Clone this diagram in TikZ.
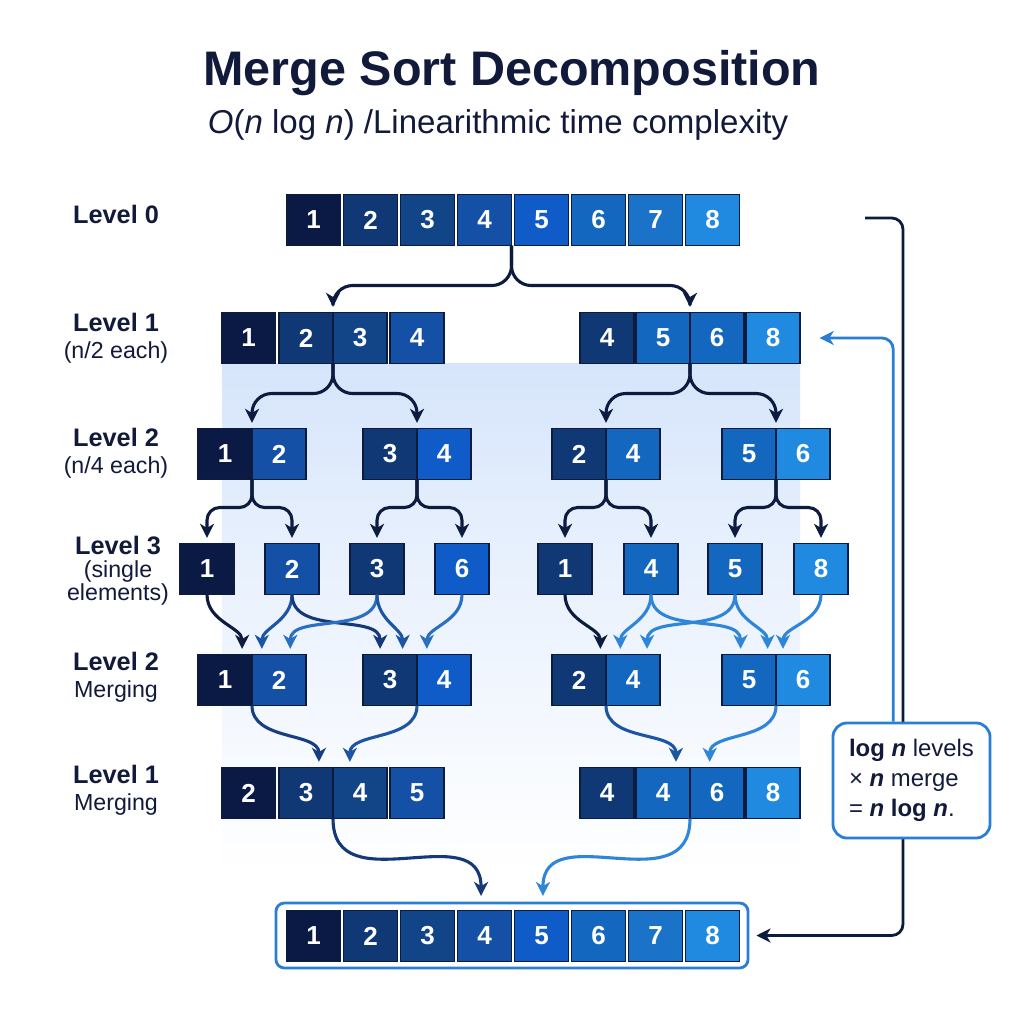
\documentclass[tikz,border=0pt]{standalone}
\usepackage{fontspec}
\setmainfont{Liberation Sans}
\usepackage{xcolor}
\usetikzlibrary{arrows.meta}

\definecolor{ink}{HTML}{111A3A}
\definecolor{navy}{HTML}{0D1B3E}
\definecolor{frame}{HTML}{2A7FD4}
\definecolor{c1}{HTML}{0B1A45}
\definecolor{c2}{HTML}{0F3875}
\definecolor{c3}{HTML}{124488}
\definecolor{c4}{HTML}{1450A6}
\definecolor{c5}{HTML}{0F5BC8}
\definecolor{c6}{HTML}{1467BE}
\definecolor{c7}{HTML}{1A72C9}
\definecolor{c8}{HTML}{2089E0}
\definecolor{mdark}{HTML}{143878}
\definecolor{mmid}{HTML}{1D55A5}
\definecolor{mlight}{HTML}{2B6FC2}
\definecolor{mbright}{HTML}{2F86D8}
\definecolor{glowa}{HTML}{D6E5FB}
\definecolor{glowb}{HTML}{B9D2F6}
\definecolor{glowc}{HTML}{E9F1FD}
\definecolor{glowd}{HTML}{C4DAF8}

\begin{document}
\begin{tikzpicture}[x=0.025cm,y=-0.025cm,
    cell/.style={draw=navy,line width=1pt,minimum width=38.4pt,minimum height=36.3pt,inner sep=0pt,outer sep=0pt,text=white,font=\fontsize{18.5}{18.5}\selectfont\bfseries},
    lvl/.style={align=center,text=ink,font=\fontsize{16.5}{19}\selectfont},
    split/.style={draw=navy,line width=2.2pt,rounded corners=14pt,-{Stealth[length=10pt,width=10pt,inset=3pt]},shorten >=4pt},
    merge/.style={line width=2.2pt,-{Stealth[length=10pt,width=10pt,inset=3pt]},shorten >=4pt},
]
    \fill[white] (0,0) rectangle (1024,1024);
    \shade[top color=glowa,middle color=glowb,bottom color=glowc] (222,363) rectangle (800,569);
    \shade[top color=glowc,middle color=glowd,bottom color=white] (222,569) rectangle (800,875);

    \node[text=ink,font=\fontsize{34.5}{34.5}\selectfont\bfseries] (title) at (512,73) {Merge Sort Decomposition};
    \node[text=ink,font=\fontsize{23.5}{23.5}\selectfont] (subtitle) at (498,125) {\textit{O}(\textit{n} log \textit{n}) /Linearithmic time complexity};

    \node[lvl] (lbl0) at (116,214) {\textbf{\fontsize{18}{18}\selectfont Level 0}};
    \node[lvl] (lbl1) at (116,338) {\textbf{\fontsize{18}{18}\selectfont Level 1}\\(n/2 each)};
    \node[lvl] (lbl2) at (116,453) {\textbf{\fontsize{18}{18}\selectfont Level 2}\\(n/4 each)};
    \node[lvl,font=\fontsize{16.5}{16.5}\selectfont] (lbl3) at (118,571) {\textbf{\fontsize{18}{18}\selectfont Level 3}\\(single\\elements)};
    \node[lvl] (lbl4) at (116,677) {\textbf{\fontsize{18}{18}\selectfont Level 2}\\Merging};
    \node[lvl] (lbl5) at (116,790) {\textbf{\fontsize{18}{18}\selectfont Level 1}\\Merging};

    \node[cell,fill=c1] (r0c1) at (313.5,220) {1};
    \node[cell,fill=c2] (r0c2) at (370.5,220) {2};
    \node[cell,fill=c3] (r0c3) at (427.5,220) {3};
    \node[cell,fill=c4] (r0c4) at (484.5,220) {4};
    \node[cell,fill=c5] (r0c5) at (541.5,220) {5};
    \node[cell,fill=c6] (r0c6) at (598.5,220) {6};
    \node[cell,fill=c7] (r0c7) at (655.5,220) {7};
    \node[cell,fill=c8] (r0c8) at (712.5,220) {8};

    \node[cell,fill=c1] (r1a1) at (248.5,338) {1};
    \node[cell,fill=c2] (r1a2) at (306,338) {2};
    \node[cell,fill=c3] (r1a3) at (360,338) {3};
    \node[cell,fill=c4] (r1a4) at (417,338) {4};
    \node[cell,fill=c2] (r1b1) at (607,338) {4};
    \node[cell,fill=c6] (r1b2) at (663,338) {5};
    \node[cell,fill=c6] (r1b3) at (717,338) {6};
    \node[cell,fill=c8] (r1b4) at (773,338) {8};

    \node[cell,fill=c1] (r2a1) at (225,454) {1};
    \node[cell,fill=c4] (r2a2) at (279,454) {2};
    \node[cell,fill=c2] (r2b1) at (390,454) {3};
    \node[cell,fill=c5] (r2b2) at (444,454) {4};
    \node[cell,fill=c2] (r2c1) at (579,454) {2};
    \node[cell,fill=c6] (r2c2) at (633,454) {4};
    \node[cell,fill=c6] (r2d1) at (749,454) {5};
    \node[cell,fill=c8] (r2d2) at (803,454) {6};

    \node[cell,fill=c1] (r3a) at (207,569) {1};
    \node[cell,fill=c4] (r3b) at (292,569) {2};
    \node[cell,fill=c2] (r3c) at (377,569) {3};
    \node[cell,fill=c5] (r3d) at (462,569) {6};
    \node[cell,fill=c2] (r3e) at (565,569) {1};
    \node[cell,fill=c6] (r3f) at (651,569) {4};
    \node[cell,fill=c6] (r3g) at (735,569) {5};
    \node[cell,fill=c8] (r3h) at (821,569) {8};

    \node[cell,fill=c1] (m2a1) at (225,680) {1};
    \node[cell,fill=c4] (m2a2) at (279,680) {2};
    \node[cell,fill=c2] (m2b1) at (390,680) {3};
    \node[cell,fill=c5] (m2b2) at (444,680) {4};
    \node[cell,fill=c2] (m2c1) at (579,680) {2};
    \node[cell,fill=c6] (m2c2) at (633,680) {4};
    \node[cell,fill=c6] (m2d1) at (749,680) {5};
    \node[cell,fill=c8] (m2d2) at (803,680) {6};

    \node[cell,fill=c1] (m1a1) at (248.5,793) {2};
    \node[cell,fill=c2] (m1a2) at (306,793) {3};
    \node[cell,fill=c3] (m1a3) at (360,793) {4};
    \node[cell,fill=c4] (m1a4) at (417,793) {5};
    \node[cell,fill=c2] (m1b1) at (607,793) {4};
    \node[cell,fill=c6] (m1b2) at (663,793) {4};
    \node[cell,fill=c6] (m1b3) at (717,793) {6};
    \node[cell,fill=c8] (m1b4) at (773,793) {8};

    \node[draw=frame,line width=2pt,rounded corners=6pt,minimum width=335.7pt,minimum height=46.2pt] (finalbox) at (512,935.5) {};
    \node[cell,fill=c1] (f1) at (313.5,936) {1};
    \node[cell,fill=c2] (f2) at (370.5,936) {2};
    \node[cell,fill=c3] (f3) at (427.5,936) {3};
    \node[cell,fill=c4] (f4) at (484.5,936) {4};
    \node[cell,fill=c5] (f5) at (541.5,936) {5};
    \node[cell,fill=c6] (f6) at (598.5,936) {6};
    \node[cell,fill=c7] (f7) at (655.5,936) {7};
    \node[cell,fill=c8] (f8) at (712.5,936) {8};

    \draw[split] (r0c4.south east) -- ++(0,40) -| (r1a2.north east);
    \draw[split] (r0c4.south east) -- ++(0,40) -| (r1b2.north east);

    \draw[split] (r1a2.south east) -- ++(0,30) -| (r2a1.north east);
    \draw[split] (r1a2.south east) -- ++(0,30) -| (r2b1.north east);
    \draw[split] (r1b2.south east) -- ++(0,30) -| (r2c1.north east);
    \draw[split] (r1b2.south east) -- ++(0,30) -| (r2d1.north east);

    \draw[split,rounded corners=9pt] (r2a1.south east) -- ++(0,28) -| (r3a.north);
    \draw[split,rounded corners=9pt] (r2a1.south east) -- ++(0,28) -| (r3b.north);
    \draw[split,rounded corners=9pt] (r2b1.south east) -- ++(0,28) -| (r3c.north);
    \draw[split,rounded corners=9pt] (r2b1.south east) -- ++(0,28) -| (r3d.north);
    \draw[split,rounded corners=9pt] (r2c1.south east) -- ++(0,28) -| (r3e.north);
    \draw[split,rounded corners=9pt] (r2c1.south east) -- ++(0,28) -| (r3f.north);
    \draw[split,rounded corners=9pt] (r2d1.south east) -- ++(0,28) -| (r3g.north);
    \draw[split,rounded corners=9pt] (r2d1.south east) -- ++(0,28) -| (r3h.north);

    \draw[merge,navy] (r3a.south) to[out=-90,in=90] ([xshift=-7pt]m2a1.north east);
    \draw[merge,mmid] (r3b.south) to[out=-90,in=90] ([xshift=7pt]m2a2.north west);
    \draw[merge,mdark] (r3b.south) to[out=-90,in=90] ([xshift=-7pt]m2b1.north);
    \draw[merge,mlight] (r3c.south) to[out=-90,in=90] ([xshift=8pt]m2a2.north);
    \draw[merge,mmid] (r3c.south) to[out=-90,in=90] ([xshift=9pt]m2b1.north);
    \draw[merge,mlight] (r3d.south) to[out=-90,in=90] ([xshift=7pt]m2b2.north west);

    \draw[merge,navy] (r3e.south) to[out=-90,in=90] ([xshift=-4pt]m2c1.north east);
    \draw[merge,mbright] (r3f.south) to[out=-90,in=90] ([xshift=-9pt]m2c2.north);
    \draw[merge,mbright] (r3f.south) to[out=-90,in=90] ([xshift=-6pt]m2d1.north);
    \draw[merge,mbright] (r3g.south) to[out=-90,in=90] ([xshift=10pt]m2c2.north);
    \draw[merge,mbright] (r3g.south) to[out=-90,in=90] ([xshift=-6pt]m2d1.north east);
    \draw[merge,mbright] (r3h.south) to[out=-90,in=90] ([xshift=5pt]m2d2.north west);

    \draw[merge,mdark!80!mmid] (m2a1.south east) to[out=-90,in=90] ([xshift=-10pt]m1a2.north east);
    \draw[merge,mmid] (m2b1.south east) to[out=-90,in=90] ([xshift=12pt]m1a3.north west);
    \draw[merge,mmid] (m2c1.south east) to[out=-90,in=90] ([xshift=-10pt]m1b2.north east);
    \draw[merge,mbright] (m2d1.south east) to[out=-90,in=90] ([xshift=14pt]m1b3.north west);

    \draw[merge,mdark] (m1a2.south east) to[out=-90,in=90,looseness=1.3] ([xshift=-22pt]finalbox.north);
    \draw[merge,mbright] (m1b2.south east) to[out=-90,in=90,looseness=1.3] ([xshift=22pt]finalbox.north);

    \coordinate (loopstart) at (865,218);
    \draw[navy,line width=2pt,rounded corners=8pt,-{Stealth[length=10pt,width=10pt,inset=3pt]}] (loopstart) -- ++(38,0) |- ([xshift=5pt]finalbox.east);

    \node[draw=frame,line width=2pt,rounded corners=10pt,fill=white,minimum width=111.7pt,minimum height=81.8pt,align=left,text=ink,font=\fontsize{17}{21.3}\selectfont] (note) at (911.5,780.5) {\textbf{log} \textbf{\textit{n}} levels\\× \textbf{\textit{n}} merge\\= \textbf{\textit{n}} \textbf{log} \textbf{\textit{n}}.};

    \draw[frame,line width=2pt,rounded corners=8pt,-{Stealth[length=10pt,width=10pt,inset=3pt]}] ([xshift=-13pt]note.north) |- ([xshift=14pt]r1b4.east);
\end{tikzpicture}
\end{document}
